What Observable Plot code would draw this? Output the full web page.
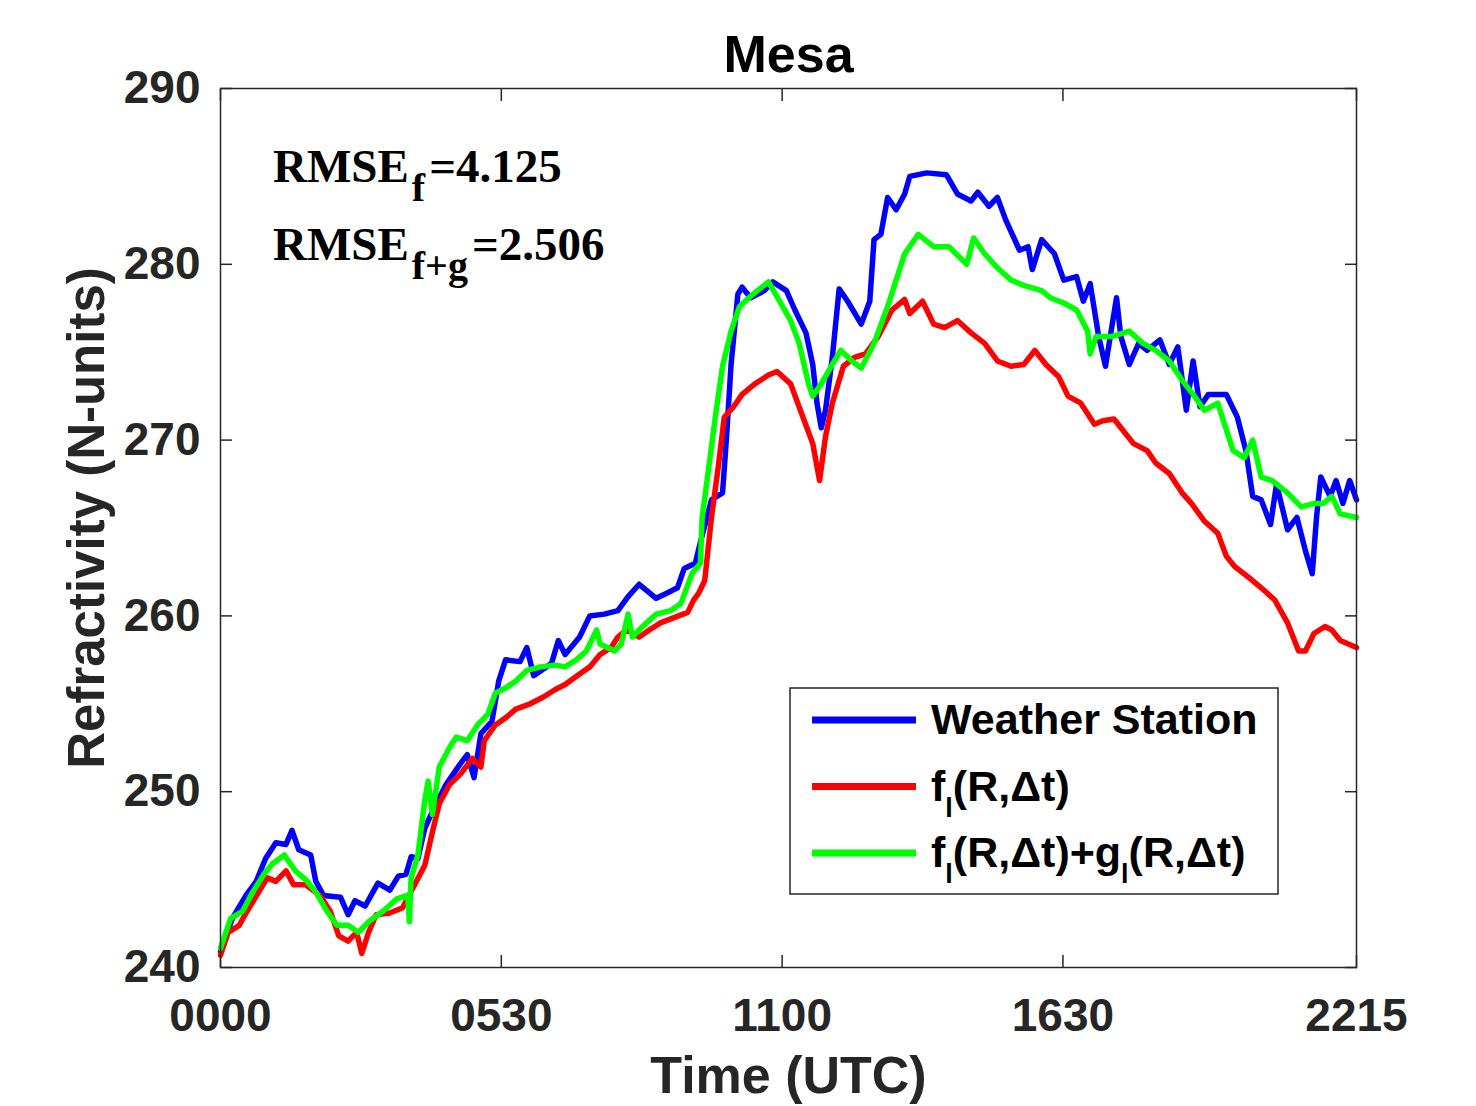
<!DOCTYPE html>
<html><head><meta charset="utf-8">
<script src="https://cdn.jsdelivr.net/npm/d3@7"></script>
<script src="https://cdn.jsdelivr.net/npm/@observablehq/plot@0.6"></script>
<style>body{margin:0;background:#fff} #chart{width:1476px;height:1106px}</style>
</head><body><div id="chart"></div><script>
// [minutes since 0000 UTC, refractivity N-units]
const weatherStation = [[0,240.9],[14,242.8],[30,244.1],[42,244.9],[53,246.2],[65,247.1],[77,247.0],[84,247.8],[92,246.7],[106,246.4],[112,244.9],[121,244.1],[141,244.0],[150,243.0],[158,243.8],[170,243.5],[185,244.8],[199,244.4],[209,245.2],[218,245.3],[224,246.3],[232,246.2],[240,247.9],[251,249.1],[265,250.4],[282,251.6],[290,252.1],[298,250.8],[306,253.3],[319,254.0],[327,256.3],[335,257.5],[352,257.4],[360,258.2],[368,256.6],[389,257.3],[397,258.6],[405,257.8],[422,258.8],[434,260.0],[451,260.1],[467,260.3],[479,261.1],[492,261.8],[512,261.0],[525,261.3],[537,261.6],[545,262.7],[558,263.0],[564,264.2],[577,266.6],[590,267.0],[595,270.4],[600,274.3],[608,278.3],[613,278.7],[623,278.1],[639,278.5],[649,279.0],[665,278.5],[675,277.4],[688,276.1],[696,274.3],[701,272.1],[706,270.7],[711,271.7],[719,274.7],[727,278.6],[737,277.9],[753,276.6],[763,277.9],[768,281.4],[776,281.7],[784,283.8],[794,283.1],[804,284.0],[810,285.0],[830,285.2],[853,285.1],[866,284.0],[882,283.6],[890,284.1],[903,283.3],[913,283.8],[923,282.5],[939,280.8],[949,281.0],[954,279.7],[965,281.4],[980,280.6],[991,279.1],[1006,279.3],[1014,277.9],[1022,278.9],[1032,275.9],[1040,274.2],[1045,275.7],[1053,278.1],[1058,275.9],[1068,274.3],[1079,275.5],[1089,275.1],[1104,275.7],[1115,274.3],[1125,275.3],[1135,271.7],[1143,274.5],[1151,271.9],[1161,272.6],[1182,272.6],[1195,271.3],[1205,269.4],[1213,266.8],[1223,266.6],[1234,265.2],[1241,267.5],[1254,264.9],[1265,265.6],[1275,263.7],[1283,262.4],[1288,265.6],[1293,267.9],[1304,266.8],[1311,267.7],[1319,266.4],[1327,267.7],[1335,266.6]];
const fModel = [[0,240.7],[9,242.0],[22,242.4],[30,243.1],[40,243.9],[55,245.1],[65,244.9],[77,245.5],[86,244.7],[100,244.7],[117,244.1],[129,243.2],[139,241.8],[150,241.5],[160,242.0],[166,240.8],[174,242.0],[183,243.0],[199,243.1],[214,243.4],[228,244.7],[240,245.8],[249,247.7],[257,249.3],[269,250.4],[282,251.0],[296,251.9],[306,251.4],[310,252.9],[323,253.8],[335,254.2],[347,254.7],[364,255.0],[380,255.4],[393,255.8],[405,256.1],[422,256.7],[434,257.1],[446,257.8],[459,258.2],[467,258.8],[477,259.2],[492,258.8],[504,259.2],[517,259.6],[533,259.9],[549,260.2],[556,260.9],[562,261.3],[569,262.0],[577,265.6],[585,268.5],[592,271.3],[603,271.9],[613,272.6],[628,273.2],[644,273.7],[654,273.9],[670,273.2],[683,271.5],[696,269.8],[704,267.7],[711,270.2],[719,272.1],[732,274.2],[745,274.7],[758,274.9],[773,275.9],[789,277.4],[804,278.0],[810,277.2],[825,277.9],[838,276.6],[851,276.4],[866,276.8],[882,276.1],[898,275.5],[913,274.5],[929,274.2],[944,274.3],[957,275.1],[970,274.3],[985,273.6],[996,272.5],[1011,272.1],[1027,270.9],[1037,271.1],[1050,271.2],[1063,270.4],[1073,269.8],[1089,269.4],[1099,268.7],[1115,268.1],[1130,267.0],[1141,266.4],[1156,265.4],[1172,264.7],[1182,263.4],[1192,262.8],[1208,262.2],[1223,261.6],[1239,260.9],[1254,259.6],[1267,258.0],[1275,258.0],[1285,259.0],[1298,259.4],[1306,259.2],[1316,258.6],[1335,258.2]];
const fgModel = [[0,241.1],[12,242.8],[26,243.2],[38,244.3],[51,245.3],[61,245.9],[75,246.4],[88,245.5],[100,245.0],[112,244.3],[125,243.2],[137,242.4],[150,242.4],[162,242.0],[174,242.6],[191,243.2],[207,243.9],[220,244.1],[222,242.6],[224,245.1],[232,246.4],[240,249.5],[244,250.6],[249,248.7],[257,251.4],[269,252.5],[277,253.1],[290,252.9],[302,253.8],[314,254.4],[323,255.6],[335,255.9],[347,256.3],[360,256.9],[376,257.1],[393,257.2],[405,257.1],[418,257.5],[430,258.0],[442,259.2],[446,258.4],[463,258.0],[471,258.4],[479,260.1],[484,258.8],[496,259.4],[512,260.1],[529,260.3],[541,260.7],[554,262.4],[564,263.0],[566,265.6],[574,268.5],[582,271.5],[590,274.2],[600,276.2],[610,277.6],[621,278.1],[631,278.5],[644,279.0],[657,277.9],[670,276.8],[680,275.5],[691,273.2],[696,272.5],[706,273.2],[719,274.3],[729,275.1],[742,274.5],[753,274.1],[768,275.5],[784,277.6],[794,279.1],[804,280.6],[820,281.7],[838,281.0],[856,281.0],[877,280.0],[885,281.5],[898,280.6],[913,279.8],[929,279.1],[944,278.8],[965,278.5],[975,278.1],[991,277.8],[1006,277.4],[1019,276.2],[1022,274.9],[1029,275.9],[1048,275.9],[1068,276.2],[1084,275.5],[1099,275.1],[1115,274.5],[1130,273.4],[1143,272.6],[1156,271.7],[1172,272.1],[1182,270.6],[1190,269.4],[1203,269.0],[1213,270.0],[1223,267.9],[1236,267.7],[1254,267.0],[1270,266.2],[1285,266.4],[1296,266.4],[1306,266.8],[1316,265.8],[1335,265.6]];

const seriesNames = ["Weather Station", "f_l(R,Δt)", "f_l(R,Δt)+g_l(R,Δt)"];
const seriesColors = ["#0000ff", "#ff0000", "#00ff00"];
const xTicks = [0, 330, 660, 990, 1335];
const xTickLabels = ["0000", "0530", "1100", "1630", "2215"];
const yTicks = [240, 250, 260, 270, 280, 290];
const rmseSubs = ["f", "f+g"];
const rmseValues = ["4.125", "2.506"];
const titleText = "Mesa";
const xLabel = "Time (UTC)";
const yLabel = "Refractivity (N-units)";

const axisColor = "#262626";
const toRows = (arr) => arr.map(([t, n]) => ({t, n}));
const allSeries = [weatherStation, fModel, fgModel];

const plot = Plot.plot({
  width: 1476, height: 1106,
  marginLeft: 220, marginRight: 120, marginTop: 88, marginBottom: 139,
  x: {domain: [0, 1335]},
  y: {domain: [240, 290]},
  style: {fontFamily: "'Liberation Sans', Arial, Helvetica, sans-serif", fontWeight: "bold", fontSize: "46px", background: "#fff", color: axisColor, overflow: "visible"},
  marks: [
    ...allSeries.map((s, i) => Plot.line(toRows(s), {x: "t", y: "n", stroke: seriesColors[i], strokeWidth: 5.5, strokeLinejoin: "round"})),
    Plot.frame({stroke: axisColor, strokeWidth: 1.5}),
    Plot.axisX(xTicks, {anchor: "bottom", tickSize: 12, dy: -12, fill: "none", label: null, strokeWidth: 1.5}),
    Plot.axisX(xTicks, {anchor: "top", tickSize: 12, dy: 12, fill: "none", label: null, strokeWidth: 1.5}),
    Plot.axisY(yTicks, {anchor: "left", tickSize: 12, dx: 12, fill: "none", label: null, strokeWidth: 1.5}),
    Plot.axisY(yTicks, {anchor: "right", tickSize: 12, dx: -12, fill: "none", label: null, strokeWidth: 1.5}),
    Plot.axisX(xTicks, {anchor: "bottom", tickSize: 0, tickPadding: 31, tickFormat: d => xTickLabels[xTicks.indexOf(d)], label: null}),
    Plot.axisY(yTicks, {anchor: "left", tickSize: 0, tickPadding: 20, tickFormat: d => String(d), label: null}),
    Plot.text([titleText], {text: d => d, frameAnchor: "top", dy: -17, lineAnchor: "bottom", fontSize: 52, fill: "black"}),
    Plot.text([xLabel], {text: d => d, frameAnchor: "bottom", dy: 125, lineAnchor: "bottom", fontSize: 52, fill: axisColor}),
    Plot.text([yLabel], {text: d => d, frameAnchor: "left", dx: -133, dy: -10, rotate: -90, lineAnchor: "middle", textAnchor: "middle", fontSize: 51, fill: axisColor})
  ]
});
document.getElementById("chart").appendChild(plot);

const svg = d3.select(plot);
// RMSE annotation
const ann = svg.append("g").attr("font-family", "'Liberation Serif','Times New Roman',serif").attr("font-weight", "bold").attr("fill", "black").attr("text-anchor", "start");
rmseSubs.forEach((sub, i) => {
  const t = ann.append("text").attr("x", 273).attr("y", 181.5 + i * 78).attr("font-size", 47).attr("text-anchor", "start");
  t.append("tspan").text("RMSE");
  t.append("tspan").attr("dy", 19).attr("dx", 3).attr("font-size", 40).text(sub);
  t.append("tspan").attr("dy", -19).attr("dx", 4).text("=" + rmseValues[i]);
});

// Legend
const lg = svg.append("g").attr("font-family", "'Liberation Sans', Arial, Helvetica, sans-serif").attr("font-weight", "bold").attr("text-anchor", "start");
lg.append("rect").attr("x", 790).attr("y", 688).attr("width", 488).attr("height", 206)
  .attr("fill", "white").attr("stroke", axisColor).attr("stroke-width", 1.5);
seriesNames.forEach((name, i) => {
  const yy = 720 + i * 66.5;
  lg.append("line").attr("x1", 812).attr("x2", 916).attr("y1", yy).attr("y2", yy)
    .attr("stroke", seriesColors[i]).attr("stroke-width", 7);
  const t = lg.append("text").attr("x", 931).attr("y", yy + 14).attr("font-size", 43).attr("fill", "black").attr("text-anchor", "start");
  let shift = 0;
  name.split(/_(.)/).forEach((part, j) => {
    if (!part) return;
    const ts = t.append("tspan");
    if (j % 2 === 1) {
      ts.attr("dy", 16 - shift).attr("font-size", 27).text(part);
      shift = 16;
    } else {
      if (shift) ts.attr("dy", -shift);
      shift = 0;
      ts.text(part);
    }
  });
});
</script></body></html>
